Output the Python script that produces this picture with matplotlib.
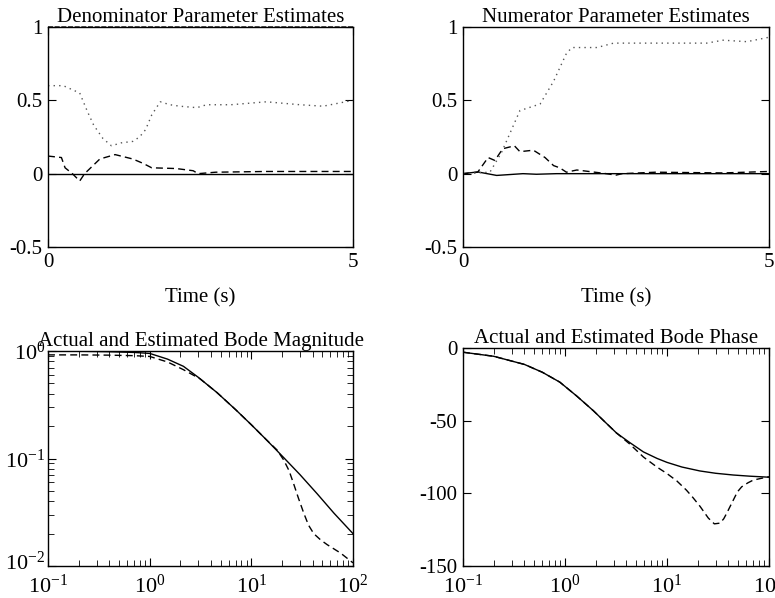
import numpy as np
import matplotlib
matplotlib.use("Agg")
import matplotlib.pyplot as plt
import matplotlib.transforms as mtransforms
from matplotlib.ticker import LogLocator, LogFormatterMathtext, NullFormatter

plt.rcParams["font.family"] = ["Liberation Serif", "DejaVu Serif"]
plt.rcParams["mathtext.fontset"] = "stix"
plt.rcParams["axes.unicode_minus"] = False
plt.rcParams["font.size"] = 15

# denominator parameter estimates
den_t_dot = [0, 0.25, 0.52, 0.65, 0.75, 0.9, 1.04, 1.2, 1.39, 1.5, 1.6, 1.7, 1.84, 2.0, 2.16, 2.44, 2.6, 3.0, 3.58, 4.13, 4.51, 5.0]
den_dot = [0.60, 0.60, 0.55, 0.42, 0.33, 0.24, 0.19, 0.21, 0.22, 0.25, 0.30, 0.40, 0.49, 0.47, 0.46, 0.45, 0.47, 0.47, 0.49, 0.47, 0.46, 0.50]
den_t_dash = [0, 0.22, 0.28, 0.4, 0.52, 0.6, 0.85, 1.1, 1.39, 1.56, 1.7, 2.1, 2.38, 2.46, 2.75, 3.58, 5.0]
den_dash = [0.12, 0.11, 0.04, 0.0, -0.05, 0.0, 0.10, 0.13, 0.10, 0.07, 0.04, 0.035, 0.02, 0.0, 0.01, 0.015, 0.015]
den_t_solid = [0, 5.0]
den_solid = [-0.002, -0.002]
den_lead = [1.0, 1.0]

# numerator parameter estimates
num_t_dot = [0, 0.44, 0.63, 0.93, 1.26, 1.48, 1.69, 1.78, 2.19, 2.46, 3.06, 3.6, 3.98, 4.25, 4.64, 5.0]
num_dot = [0.0, 0.01, 0.145, 0.43, 0.475, 0.63, 0.82, 0.86, 0.86, 0.89, 0.89, 0.89, 0.89, 0.91, 0.90, 0.93]
num_t_dash = [0, 0.24, 0.41, 0.52, 0.65, 0.84, 0.93, 1.15, 1.34, 1.48, 1.58, 1.69, 1.86, 2.29, 2.5, 2.6, 3.15, 4.25, 5.0]
num_dash = [0.0, 0.01, 0.11, 0.09, 0.17, 0.19, 0.15, 0.16, 0.11, 0.055, 0.04, 0.01, 0.025, 0.003, -0.01, 0.0, 0.01, 0.005, 0.015]
num_t_solid = [0, 0.24, 0.55, 0.98, 1.2, 1.53, 5.0]
num_solid = [0.0, 0.012, -0.012, 0.0, -0.004, 0.0, 0.0]

# bode magnitude
w_mag = [0.1, 0.2, 0.4, 0.7, 1.0, 1.5, 2.15, 3.0, 4.6, 7, 10, 14, 20.8, 30, 44.4, 65, 100]
mag_act = [1.0, 0.995, 0.985, 0.97, 0.95, 0.84, 0.72, 0.57, 0.41, 0.285, 0.206, 0.150, 0.102, 0.071, 0.047, 0.031, 0.020]
w_mag_est = [0.1, 0.2, 0.4, 0.7, 1.0, 1.5, 2.15, 3.14, 4.6, 7, 10, 14, 17.9, 20.8, 23.5, 26.1, 29, 32.8, 36.5, 41.1, 48, 55.7, 75.4, 100]
mag_est = [0.92, 0.92, 0.915, 0.905, 0.89, 0.79, 0.67, 0.55, 0.41, 0.285, 0.206, 0.150, 0.12, 0.097, 0.077, 0.058, 0.043, 0.031, 0.024, 0.020, 0.0175, 0.0158, 0.0132, 0.0107]

# bode phase
w_ph = [0.1, 0.2, 0.4, 0.6, 0.89, 1.3, 1.9, 2.5, 3.2, 4.3, 5.87, 8, 10, 14, 21, 30, 44.7, 65, 100]
ph_act = [-2.9, -5.7, -11.3, -16.7, -23.5, -33.0, -43.2, -51.3, -58.5, -65.0, -71.5, -76.0, -78.7, -81.9, -84.6, -86.2, -87.4, -88.2, -88.9]
w_ph_est = [0.1, 0.2, 0.4, 0.6, 0.89, 1.3, 1.9, 2.5, 3.2, 4.3, 5.87, 8, 10, 12.5, 15.5, 18, 21.1, 25.4, 29.1, 33.1, 36, 38.5, 44.7, 49, 54, 62, 70, 85, 100]
ph_est = [-2.9, -5.7, -11.3, -16.7, -23.5, -33.0, -43.2, -51.3, -58.5, -66.0, -75.0, -82.0, -86.4, -91.5, -97.8, -103.0, -109.0, -117.0, -121.0, -120.5, -117.5, -113.7, -104.6, -99.0, -95.5, -92.8, -90.9, -89.6, -88.6]

fig = plt.figure(figsize=(7.75, 5.98), dpi=100)
W, H = 775.0, 598.0


def add_ax(l, t, r, b):
    return fig.add_axes([l / W, 1 - b / H, (r - l) / W, (b - t) / H])


ax1 = add_ax(48, 27, 353, 247)
ax2 = add_ax(463, 27, 769, 247)
ax3 = add_ax(48, 351, 353, 566)
ax4 = add_ax(463, 348, 769, 566)

for ax in (ax1, ax2, ax3, ax4):
    ax.tick_params(which="both", direction="in", top=True, right=True, labelsize=15, pad=4)
    ax.tick_params(which="major", length=6)
    ax.tick_params(which="minor", length=4)
    for s in ax.spines.values():
        s.set_linewidth(1.0)

ax1.plot(den_t_solid, den_solid, color="black", lw=1)
ax1.plot(den_t_dash, den_dash, color="black", lw=1, ls=(0, (5, 3)))
ax1.plot(den_t_dot, den_dot, color="#555555", lw=1, ls=(0, (1, 3)))
ax1.plot(den_t_solid, den_lead, color="#333333", lw=1.2, ls=(0, (3, 1)), clip_on=False)

ax2.plot(num_t_solid, num_solid, color="black", lw=1)
ax2.plot(num_t_dash, num_dash, color="black", lw=1, ls=(0, (5, 3)))
ax2.plot(num_t_dot, num_dot, color="#555555", lw=1, ls=(0, (1, 3)))

for ax, title in ((ax1, "Denominator Parameter Estimates"), (ax2, "Numerator Parameter Estimates")):
    ax.set_xlim(0, 5)
    ax.set_ylim(-0.5, 1)
    ax.set_xticks([0, 5])
    ax.set_yticks([-0.5, 0, 0.5, 1])
    ax.set_yticklabels(["-0.5", "0", "0.5", "1"])
    ax.set_title(title, fontsize=15, pad=3)
    ax.set_xlabel("Time (s)", fontsize=15, labelpad=12)

ax3.loglog(w_mag, mag_act, color="black", lw=1)
ax3.loglog(w_mag_est, mag_est, color="black", lw=1, ls=(0, (5, 3)))
ax3.set_xlim(0.1, 100)
ax3.set_ylim(0.01, 1)
ax3.set_title("Actual and Estimated Bode Magnitude", fontsize=15, pad=3)

ax4.semilogx(w_ph, ph_act, color="black", lw=1)
ax4.semilogx(w_ph_est, ph_est, color="black", lw=1, ls=(0, (5, 3)))
ax4.set_xlim(0.1, 100)
ax4.set_ylim(-150, 0)
ax4.set_yticks([-150, -100, -50, 0])
ax4.set_yticklabels(["-150", "-100", "-50", "0"])
ax4.set_title("Actual and Estimated Bode Phase", fontsize=15, pad=3)

for ax in (ax3, ax4):
    ax.xaxis.set_major_locator(LogLocator(base=10))
    ax.xaxis.set_minor_locator(LogLocator(base=10, subs=np.arange(2, 10)))
    ax.xaxis.set_minor_formatter(NullFormatter())
    ax.xaxis.set_major_formatter(LogFormatterMathtext())
    ax.tick_params(axis="x", labelsize=16, pad=6)
ax3.yaxis.set_major_locator(LogLocator(base=10))
ax3.yaxis.set_minor_locator(LogLocator(base=10, subs=np.arange(2, 10)))
ax3.yaxis.set_minor_formatter(NullFormatter())
ax3.tick_params(axis="y", labelsize=16, pad=2)

# lift the lowest magnitude label a little so it clears the x labels
ax3.set_yticks([0.01, 0.1, 1])
lift = mtransforms.ScaledTranslation(0, 4 / 72, fig.dpi_scale_trans)
low = ax3.yaxis.get_major_ticks()[0].label1
low.set_transform(low.get_transform() + lift)

fig.savefig("out.png", dpi=100)
